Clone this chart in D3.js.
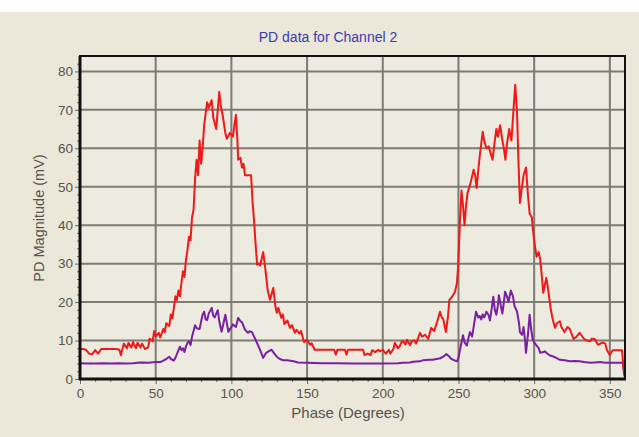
<!DOCTYPE html>
<meta charset="utf-8">
<title>PD data for Channel 2</title>
<script src="https://d3js.org/d3.v7.min.js"></script>
<style>
  html, body { margin: 0; padding: 0; background: #fff; }
  text { font-family: "Liberation Sans", Arial, sans-serif; }
</style>
<body>
<div id="chart"></div>
<script>

// red trace (upper)
var redPhase = [0,2,4,6,8,10,12,14,16,18,20,22,24,26,27,28,29,31,32,34,35,37,38,40,41,43,45,46,48,49,50,52,53,55,56,57,59,60,61,62,63,64,65,66,67,68,69,70,71,72,73,74,75,76,77,78,79,80,81,82,84,85,87,88,90,91,92,93,94.5,96,97,99,101,102,103,104,104.5,106,107,108,109,111,113,114,115,116,117,118,119,121,122,123,124,125.5,127.7,129,130,131,133,134,135,137,138.7,140,142,143,145,146,148,150,152,153,155,158,162,166,168,169,170,172,175,176,177,180,184,187,188,190,192,193,195,197,198,200,202,204,205,207,208,210,211,213,215,216,218,219,221,222,224.6,226,228,230,232,234,236,237.8,239,240,241.7,243,244,246,247.7,249,249.7,250.5,251,252,253,254,255,256,258,260,261,262,263,264,265,266,267,268.5,270,271,272.5,274,275,276,277.5,279,280,281,282,283.5,285,286,287.5,288.7,289.5,290.6,292,293,294.6,296,297,298.5,299,300,301.6,303,304,305,306,308,309,311,312,313.7,315,317,318,320,322,323.6,325,326,328,330,331,333,335,337,338,340,342,343,345,347,348,350,351,352,354,356.7,358,359,360];
var redValue = [7.8,7.8,7.6,6.6,6.4,7.5,6.6,7.8,7.8,7.8,7.8,7.8,7.8,7.6,6.2,7.8,9.2,8.0,9.4,8.2,9.6,8.0,9.4,8.2,9.2,7.8,8.2,10.5,9.8,12.5,11.0,12.0,10.8,13.0,12.2,14.5,13.8,16.8,15.8,18.5,21.5,20.5,23.0,21.5,25.0,28.0,26.5,31.0,33.5,37.0,36.0,42.0,44.0,52.0,57.0,53.0,62.0,56.0,60.0,66.0,72.0,70.5,72.5,68.0,65.0,70.0,74.7,71.0,68.0,64.0,62.5,64.0,63.0,66.0,68.7,62.0,57.0,57.5,55.0,56.0,53.0,53.0,53.0,46.0,41.0,35.0,29.7,30.0,29.5,33.0,30.0,26.6,23.0,20.6,23.7,19.0,17.2,18.5,15.9,16.8,14.3,15.2,13.3,14.0,12.0,12.8,11.8,12.5,9.6,10.2,8.9,9.3,7.6,7.6,7.6,7.6,7.6,6.3,7.6,7.6,7.6,6.3,7.6,7.6,7.6,7.6,6.2,6.6,6.2,7.5,7.0,7.6,7.2,7.6,6.6,7.6,6.6,7.8,9.4,8.0,8.4,10.0,9.0,10.2,8.8,9.8,10.0,9.2,12.0,11.0,11.5,10.4,13.3,12.5,15.0,17.5,16.0,15.5,12.2,16.0,20.6,21.5,22.7,25.0,29.0,36.0,41.4,49.0,45.0,40.0,45.0,48.4,51.0,54.4,53.0,49.7,54.0,57.8,61.0,64.3,62.0,60.0,60.5,59.0,57.0,62.0,65.0,63.0,66.0,62.0,60.0,57.0,61.0,65.0,62.0,68.0,76.5,69.0,58.0,45.8,50.0,53.0,55.0,47.4,43.0,42.0,39.6,36.0,31.8,33.0,31.0,27.0,22.4,26.3,24.0,18.0,16.0,13.3,14.5,15.0,13.5,12.2,13.5,13.0,11.5,10.4,11.0,12.0,11.5,10.4,10.0,9.8,10.5,10.4,9.0,9.0,9.5,9.2,7.6,6.2,7.0,7.5,7.5,7.5,7.5,3.0,1.5];

// purple trace (lower)
var purplePhase = [0,5,10,15,20,25,30,35,40,45,50,53,55,57,59,60,62,63,64,66,67,68,69,70,71,72,73,74,75,76,77,79,80,81,82,83,84,85,87,88,89,90,91,92,93.5,94.5,96,97,98,99,100,101,103,104.5,106,107,109,111,112,113.6,115,116,118,119,121,123,125,126.6,128,130,132,134,137,141,144,150,160,170,180,190,200,210,213,218,220,224.6,226.6,231,233,238,240,242,243.5,245,247,249,250,251,252,253,254,255.6,256.5,257.6,259,260,261.6,263,264,265,266,267,268.5,270,270.8,272,273,274,275,276,276.7,278,279,280,280.8,282,283,284.6,286,287,288.7,290,290.6,292,293,294,294.6,296,297,298,299,300,301.6,303,304,306,307,309,310.5,313,317,320,323.6,327,330,333,337,340,343.6,347,350,354,357,358.5,359.5,360];
var purpleValue = [4.1,4.0,4.0,4.1,4.0,4.1,4.0,4.1,4.3,4.2,4.4,4.4,4.8,5.2,5.8,5.2,4.8,5.5,6.5,8.4,7.5,8.0,7.0,8.5,9.4,9.8,8.8,11.0,12.5,14.0,13.2,13.0,15.0,16.7,17.5,15.5,15.3,17.0,18.5,16.5,16.0,17.0,17.9,15.0,12.3,14.0,16.7,14.5,12.3,13.0,13.5,14.2,13.5,15.9,15.0,14.8,12.8,12.0,12.4,12.2,11.0,10.2,8.4,7.5,5.5,6.8,7.3,7.6,6.8,5.8,5.2,4.9,4.9,4.6,4.3,4.2,4.1,4.1,4.0,4.0,4.0,4.1,4.2,4.3,4.5,4.6,4.9,5.0,5.0,5.4,5.8,6.5,6.0,5.3,4.9,4.6,5.5,7.5,9.5,11.4,9.5,8.7,10.5,12.2,11.0,13.5,17.5,16.0,16.4,15.5,16.8,16.0,17.5,16.5,15.2,18.5,21.4,18.0,16.7,19.0,21.8,19.0,17.0,20.0,22.7,21.5,20.0,23.0,21.5,19.0,17.5,14.5,12.2,11.5,13.5,10.0,6.8,12.0,16.7,13.0,10.4,9.5,8.7,8.0,6.8,7.0,7.2,6.5,6.1,5.8,5.0,4.9,4.6,4.7,4.6,4.4,4.2,4.3,4.4,4.2,4.2,4.2,4.2,4.2,1.0,0.5];

var xTicks = [0,50,100,150,200,250,300,350];
var yTicks = [0,10,20,30,40,50,60,70,80];

var W = 639, H = 437;
var margin = {top: 56, right: 14, bottom: 58, left: 80},
    width = W - margin.left - margin.right,
    height = H - margin.top - margin.bottom;

var root = d3.select("#chart")
  .append("svg")
    .attr("width", W)
    .attr("height", H);

// panel background
root.append("rect")
  .attr("x", 0).attr("y", 12)
  .attr("width", W).attr("height", H - 12)
  .attr("fill", "#ebe8d9");

var svg = root.append("g")
  .attr("transform", "translate(" + margin.left + "," + margin.top + ")");

var x = d3.scaleLinear().domain([0, 360]).range([0, width]);
var y = d3.scaleLinear().domain([0, 84]).range([height, 0]);

svg.append("rect")
  .attr("width", width).attr("height", height)
  .attr("fill", "#edeadf");

// grid
svg.selectAll(".vgrid")
  .data(xTicks.slice(1))
  .enter().append("line")
    .attr("x1", function(d){ return x(d) }).attr("x2", function(d){ return x(d) })
    .attr("y1", 0).attr("y2", height)
    .attr("stroke", "#7d7b74").attr("stroke-width", 2);

svg.selectAll(".hgrid")
  .data(yTicks.slice(1))
  .enter().append("line")
    .attr("y1", function(d){ return y(d) }).attr("y2", function(d){ return y(d) })
    .attr("x1", 0).attr("x2", width)
    .attr("stroke", "#7d7b74").attr("stroke-width", 2);

// traces
var line = d3.line()
  .x(function(d){ return x(d[0]) })
  .y(function(d){ return y(d[1]) });

svg.append("path")
  .datum(d3.zip(purplePhase, purpleValue))
  .attr("fill", "none")
  .attr("stroke", "#7b1fa2")
  .attr("stroke-width", 2)
  .attr("stroke-linejoin", "round")
  .attr("d", line);

svg.append("path")
  .datum(d3.zip(redPhase, redValue))
  .attr("fill", "none")
  .attr("stroke", "#f01818")
  .attr("stroke-width", 2)
  .attr("stroke-linejoin", "round")
  .attr("d", line);

// axes
svg.append("g")
  .attr("transform", "translate(0," + height + ")")
  .call(d3.axisBottom(x).tickValues(xTicks).tickSize(5).tickPadding(4));
svg.append("g")
  .attr("transform", "translate(0," + height + ")")
  .call(d3.axisBottom(x).tickValues(d3.range(10, 360, 10).filter(function(d){ return d % 50 })).tickSize(3).tickFormat(""));

svg.append("g")
  .call(d3.axisLeft(y).tickValues(yTicks).tickSize(5).tickPadding(2));
svg.append("g")
  .call(d3.axisLeft(y).tickValues(d3.range(2, 84, 2).filter(function(d){ return d % 10 })).tickSize(3).tickFormat(""));

svg.selectAll(".domain").remove();
svg.selectAll(".tick line").attr("stroke", "#6b6a66");
svg.selectAll(".tick text")
  .attr("fill", "#55534e")
  .style("font-size", "13.5px");

// frame
svg.append("rect")
  .attr("width", width).attr("height", height)
  .attr("fill", "none")
  .attr("stroke", "#111").attr("stroke-width", 2);
svg.append("line")
  .attr("x1", 0).attr("x2", 0).attr("y1", 0).attr("y2", height + 1)
  .attr("stroke", "#111").attr("stroke-width", 3);
svg.append("line")
  .attr("x1", -1).attr("x2", width + 1).attr("y1", height).attr("y2", height)
  .attr("stroke", "#111").attr("stroke-width", 3);

// labels
root.append("text")
  .attr("x", 328).attr("y", 42)
  .attr("text-anchor", "middle")
  .attr("fill", "#3b3bb0")
  .style("font-size", "14px")
  .text("PD data for Channel 2");

root.append("text")
  .attr("x", 348).attr("y", 418)
  .attr("text-anchor", "middle")
  .attr("fill", "#55534e")
  .style("font-size", "15px")
  .text("Phase (Degrees)");

root.append("text")
  .attr("transform", "translate(44,218) rotate(-90)")
  .attr("text-anchor", "middle")
  .attr("fill", "#55534e")
  .style("font-size", "14.5px")
  .text("PD Magnitude (mV)");

</script>
</body>
